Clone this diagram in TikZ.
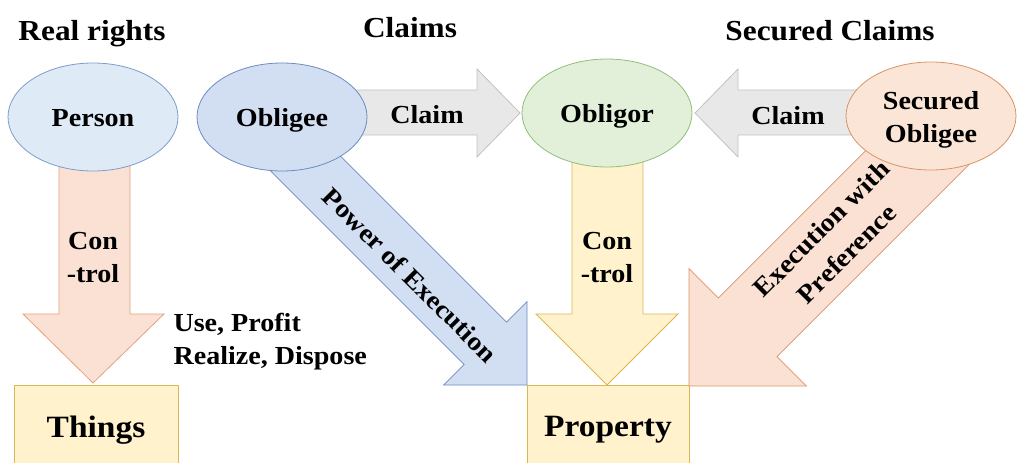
\documentclass[tikz,border=0pt]{standalone}
\usepackage{fontspec}
\setmainfont{Liberation Serif}[FakeStretch=1.08]
\usetikzlibrary{shapes.geometric}

\definecolor{personfill}{HTML}{DEEBF7}
\definecolor{personline}{HTML}{7D9CC9}
\definecolor{obligeefill}{HTML}{D2DEF2}
\definecolor{obligeeline}{HTML}{6D8CC0}
\definecolor{obligorfill}{HTML}{E2F0D9}
\definecolor{obligorline}{HTML}{8FBF7A}
\definecolor{securedfill}{HTML}{FBE5D6}
\definecolor{securedline}{HTML}{D99466}
\definecolor{controlfill}{HTML}{FBE1D3}
\definecolor{controlline}{HTML}{E3A27F}
\definecolor{claimfill}{HTML}{E8E8E8}
\definecolor{claimline}{HTML}{C2C2C2}
\definecolor{thingfill}{HTML}{FFF2CC}
\definecolor{thingline}{HTML}{D9B853}

\begin{document}
\begin{tikzpicture}[x=1pt, y=-1pt,
		every node/.style={font=\bfseries\fontsize{26}{33}\selectfont},
		role/.style={ellipse, draw, line width=0.8pt, minimum width=170pt, minimum height=108pt, inner sep=0pt, text height=18pt, text depth=0pt},
		box/.style={rectangle, draw=thingline, fill=thingfill, line width=0.8pt, font=\bfseries\fontsize{31}{36}\selectfont},
		heading/.style={anchor=base, font=\bfseries\fontsize{29}{34}\selectfont},
		block/.style={line width=0.8pt, line join=miter}]
	\clip (0,0) rectangle (1017,463);
	% headings
	\node [heading] (realrights) at (92,40) {Real rights};
	\node [heading] (claims) at (410,37) {Claims};
	\node [heading] (securedclaims) at (830,40) {Secured Claims};
	% things and property
	\node [box, minimum width=164pt, minimum height=90pt] (things) at (96,430) {Things};
	\node [box, minimum width=162pt, minimum height=90pt] (property) at (608,430) {Property};
	% block arrows
	\filldraw [block, fill=controlfill, draw=controlline] (59,117) -- (59,314) -- (23,314) -- (93,383) -- (164,314) -- (130,314) -- (130,117) -- cycle;
	\filldraw [block, fill=thingfill, draw=thingline] (572,113) -- (572,314) -- (536,314) -- (607,385) -- (678,314) -- (643,314) -- (643,113) -- cycle;
	\filldraw [block, fill=claimfill, draw=claimline] (300,90) -- (477,90) -- (477,69) -- (520,113) -- (477,157) -- (477,135) -- (300,135) -- cycle;
	\filldraw [block, fill=claimfill, draw=claimline] (870,90) -- (738,90) -- (738,69) -- (695,113) -- (738,157) -- (738,135) -- (870,135) -- cycle;
	\filldraw [block, fill=obligeefill, draw=obligeeline] (258.8,159.2) -- (464.1,364.5) -- (443.6,385) -- (527,385) -- (527,301.6) -- (506.5,322.1) -- (301.2,116.8) -- cycle;
	\filldraw [block, fill=controlfill, draw=securedline] (920.7,95.7) -- (718.4,298) -- (689,268.6) -- (689,386) -- (806.4,386) -- (777,356.6) -- (979.3,154.3) -- cycle;
	% parties
	\node [role, fill=personfill, draw=personline] (person) at (93,117) {Person};
	\node [role, fill=obligeefill, draw=obligeeline] (obligee) at (282,117) {Obligee};
	\node [role, fill=obligorfill, draw=obligorline] (obligor) at (607,113) {Obligor};
	\node [role, fill=securedfill, draw=securedline] (secured) at (931,116) {};
	\node [align=center] (securedtext) at (931,120) {Secured\\Obligee};
	% arrow labels
	\node [align=center] (control) at (93,258) {Con\\-trol};
	\node [align=center] (obligorcontrol) at (607,258) {Con\\-trol};
	\node [anchor=west, align=left] (uses) at (170,342) {Use, Profit\\Realize, Dispose};
	\node [anchor=base] (claimright) at (427,123) {Claim};
	\node [anchor=base] (claimleft) at (788,124) {Claim};
	\node [rotate=-45] (power) at (410,275) {Power of Execution};
	\node [rotate=45, align=center, font=\bfseries\fontsize{26}{36}\selectfont] (preference) at (834,241) {Execution with\\Preference};
\end{tikzpicture}
\end{document}
